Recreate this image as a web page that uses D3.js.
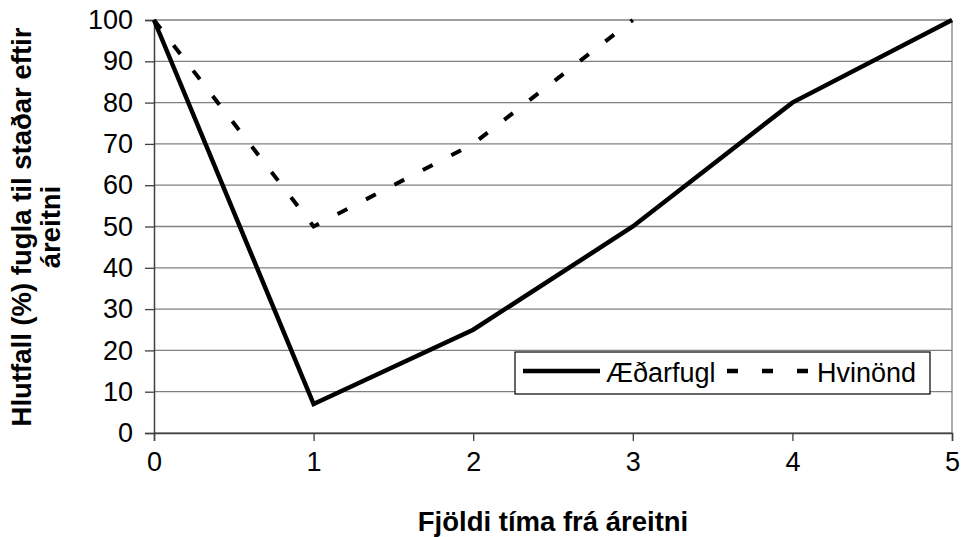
<!DOCTYPE html>
<html>
<head>
<meta charset="utf-8">
<script src="https://cdn.jsdelivr.net/npm/d3@7"></script>
<style>
  body { margin: 0; background: #fff; }
  text { font-family: "Liberation Sans", Arial, sans-serif; }
</style>
</head>
<body>
<script>
// data
var hours = [0, 1, 2, 3, 4, 5];
var aedarfugl = [100, 7, 25, 50, 80, 100];
var hvinondHours = [0, 1, 2, 3];
var hvinond = [100, 50, 70, 100];
var yTicks = [0, 10, 20, 30, 40, 50, 60, 70, 80, 90, 100];
var seriesNames = ["Æðarfugl", "Hvinönd"];

var svgWidth = 962, svgHeight = 537;
var margin = { top: 20, left: 154 };
var chartWidth = 952 - margin.left;
var chartHeight = 433 - margin.top;

var svg = d3.select("body").append("svg")
  .attr("width", svgWidth)
  .attr("height", svgHeight);

var chartGroup = svg.append("g")
  .attr("transform", `translate(${margin.left},${margin.top})`);

var x = d3.scaleLinear().domain([0, 5]).range([0, chartWidth]);
var y = d3.scaleLinear().domain([0, 100]).range([chartHeight, 0]);

// gridlines
chartGroup.append("g")
  .selectAll("line")
  .data(yTicks)
  .join("line")
  .attr("x1", 0).attr("x2", chartWidth)
  .attr("y1", d => y(d)).attr("y2", d => y(d))
  .attr("stroke", "#808080").attr("stroke-width", 1.3);

// right border of plot area
chartGroup.append("line")
  .attr("x1", chartWidth).attr("x2", chartWidth)
  .attr("y1", 0).attr("y2", chartHeight)
  .attr("stroke", "#808080").attr("stroke-width", 1.3);

// axes
var leftAxis = d3.axisLeft(y).tickValues(yTicks).tickSize(9).tickPadding(12);
var bottomAxis = d3.axisBottom(x).tickValues(hours).tickFormat(d3.format("d")).tickSize(8).tickPadding(11);

var yAxisG = chartGroup.append("g").call(leftAxis);
var xAxisG = chartGroup.append("g")
  .attr("transform", `translate(0,${chartHeight})`)
  .call(bottomAxis);

[yAxisG, xAxisG].forEach(function(g) {
  g.attr("font-size", 27).attr("font-family", "Liberation Sans, Arial, sans-serif");
  g.select(".domain").attr("stroke", "#404040").attr("stroke-width", 1.5);
  g.selectAll(".tick line").attr("stroke", "#404040").attr("stroke-width", 1.3);
  g.selectAll(".tick text").attr("fill", "#000");
});

// lines
var line = d3.line().x(d => x(d[0])).y(d => y(d[1]));

chartGroup.append("path")
  .datum(d3.zip(hvinondHours, hvinond))
  .attr("d", line)
  .attr("fill", "none")
  .attr("stroke", "#000")
  .attr("stroke-width", 4)
  .attr("stroke-dasharray", "11,21");

chartGroup.append("path")
  .datum(d3.zip(hours, aedarfugl))
  .attr("d", line)
  .attr("fill", "none")
  .attr("stroke", "#000")
  .attr("stroke-width", 4.5)
  .attr("stroke-linejoin", "miter");

// legend
var legend = svg.append("g").attr("transform", "translate(515,352)");
legend.append("rect")
  .attr("width", 415).attr("height", 42)
  .attr("fill", "#fff").attr("stroke", "#000").attr("stroke-width", 1.2);
legend.append("line")
  .attr("x1", 8).attr("x2", 85).attr("y1", 19).attr("y2", 19)
  .attr("stroke", "#000").attr("stroke-width", 4.5);
legend.append("text")
  .attr("x", 91).attr("y", 30)
  .attr("font-size", 27)
  .text(seriesNames[0]);
legend.append("line")
  .attr("x1", 212).attr("x2", 293).attr("y1", 19).attr("y2", 19)
  .attr("stroke", "#000").attr("stroke-width", 4.5)
  .attr("stroke-dasharray", "11,24");
legend.append("text")
  .attr("x", 302).attr("y", 30)
  .attr("font-size", 27)
  .text(seriesNames[1]);

// axis titles
svg.append("text")
  .attr("x", 553).attr("y", 531)
  .attr("text-anchor", "middle")
  .attr("font-size", 27.5).attr("font-weight", "bold")
  .text("Fjöldi tíma frá áreitni");

var yTitle = svg.append("text")
  .attr("transform", "translate(0,227) rotate(-90)")
  .attr("text-anchor", "middle")
  .attr("font-size", 27.5).attr("font-weight", "bold");
yTitle.append("tspan").attr("x", 0).attr("y", 31).text("Hlutfall (%) fugla til staðar eftir");
yTitle.append("tspan").attr("x", 0).attr("y", 60).text("áreitni");
</script>
</body>
</html>
